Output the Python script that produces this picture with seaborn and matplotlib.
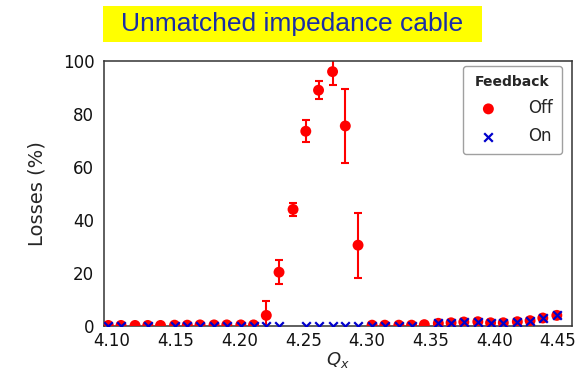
import numpy as np
import pandas as pd
import matplotlib
matplotlib.use("Agg")
import matplotlib.pyplot as plt
from matplotlib.patches import Rectangle
import seaborn as sns

# Horizontal tune scan
qx = [4.097, 4.107, 4.118, 4.128, 4.138, 4.149, 4.159, 4.169, 4.180, 4.190,
      4.201, 4.211, 4.221, 4.231, 4.242, 4.252, 4.262, 4.273, 4.283, 4.293,
      4.304, 4.314, 4.325, 4.335, 4.345, 4.356, 4.366, 4.376, 4.387, 4.397,
      4.407, 4.418, 4.428, 4.438, 4.449]

# Beam losses (%) with the feedback switched off, and their uncertainty
loss_off = [0.2, 0.2, 0.2, 0.2, 0.2, 0.3, 0.3, 0.4, 0.4, 0.4,
            0.4, 0.4, 4.0, 20.3, 44.0, 73.5, 89.0, 96.0, 75.5, 30.5,
            0.3, 0.3, 0.3, 0.3, 0.5, 1.0, 1.2, 1.5, 1.6, 1.2,
            1.2, 1.6, 2.0, 3.0, 4.0]
err_off = [0, 0, 0, 0, 0, 0, 0, 0, 0, 0,
           0, 0, 5.5, 4.5, 2.5, 4.2, 3.3, 5.0, 14.0, 12.3,
           0, 0, 0, 0, 0, 0, 0, 0, 0, 0,
           0, 0, 0, 0, 0]

# Beam losses (%) with the feedback switched on (NaN: not measured)
nan = np.nan
loss_on = [0.1, 0.1, nan, 0.1, nan, 0.1, 0.1, 0.1, 0.1, 0.1,
           0.1, 0.1, 0.0, 0.0, nan, 0.0, 0.0, 0.0, 0.0, 0.0,
           0.1, 0.1, 0.1, 0.1, nan, 1.0, 1.2, 1.5, 1.6, 1.2,
           1.2, 1.6, 2.0, 3.1, 4.1]

xticks = [4.10, 4.15, 4.20, 4.25, 4.30, 4.35, 4.40, 4.45]
yticks = [0, 20, 40, 60, 80, 100]

df_off = pd.DataFrame({"Qx": qx, "loss": loss_off, "err": err_off})
df_on = pd.DataFrame({"Qx": qx, "loss": loss_on}).dropna()

sns.set_style("white")
plt.rcParams["font.family"] = ["DejaVu Sans"]

fig = plt.figure(figsize=(5.75, 3.7), dpi=100)
ax = fig.add_axes([0.181, 0.119, 0.814, 0.716])

# error bars for the feedback-off points
eb = df_off[df_off["err"] > 0]
ax.errorbar(eb["Qx"], eb["loss"], yerr=eb["err"], fmt="none", ecolor="#ff0000",
            elinewidth=1.5, capsize=3, capthick=1.5, zorder=2)

sns.scatterplot(data=df_off, x="Qx", y="loss", ax=ax, color="#ff0000",
                marker="o", s=62, edgecolor="none", label="Off", zorder=3,
                clip_on=True)
sns.scatterplot(data=df_on, x="Qx", y="loss", ax=ax, color="#0000cc",
                marker="x", s=38, linewidth=1.6, label="On", zorder=4,
                clip_on=True)

ax.set_xlim(4.0937, 4.461)
ax.set_ylim(0, 100)
ax.set_xticks(xticks)
ax.set_xticklabels([f"{t:.2f}" for t in xticks])
ax.set_yticks(yticks)
ax.tick_params(axis="both", length=0, labelsize=12, colors="#111111")
ax.tick_params(axis="x", pad=4)
ax.tick_params(axis="y", pad=7)
ax.set_xlabel(r"$Q_x$", fontsize=13, labelpad=0)
ax.set_ylabel("Losses (%)", fontsize=14, labelpad=12)
for sp in ax.spines.values():
    sp.set_color("#333333")
    sp.set_linewidth(1.1)

leg = ax.legend(title="Feedback", loc="upper right", bbox_to_anchor=(0.979, 0.981),
                borderaxespad=0, fontsize=12,
                title_fontproperties={"weight": "bold", "size": 10},
                frameon=True, fancybox=True, handletextpad=1.4, borderpad=0.55,
                labelspacing=0.6, markerscale=1.0)
leg.get_frame().set_edgecolor("#888888")
leg.get_frame().set_linewidth(1.0)

# highlighted heading above the plot
fig.patches.append(Rectangle((103 / 575, 1 - 41.7 / 370), 379 / 575, 36 / 370,
                             transform=fig.transFigure, facecolor="#ffff00",
                             edgecolor="none", zorder=0))
fig.text(292.5 / 575, 1 - 24 / 370, "Unmatched impedance cable",
         ha="center", va="center", fontsize=19, color="#1a2ea6",
         family=["Liberation Sans", "DejaVu Sans"])

fig.savefig("out.png", dpi=100)
